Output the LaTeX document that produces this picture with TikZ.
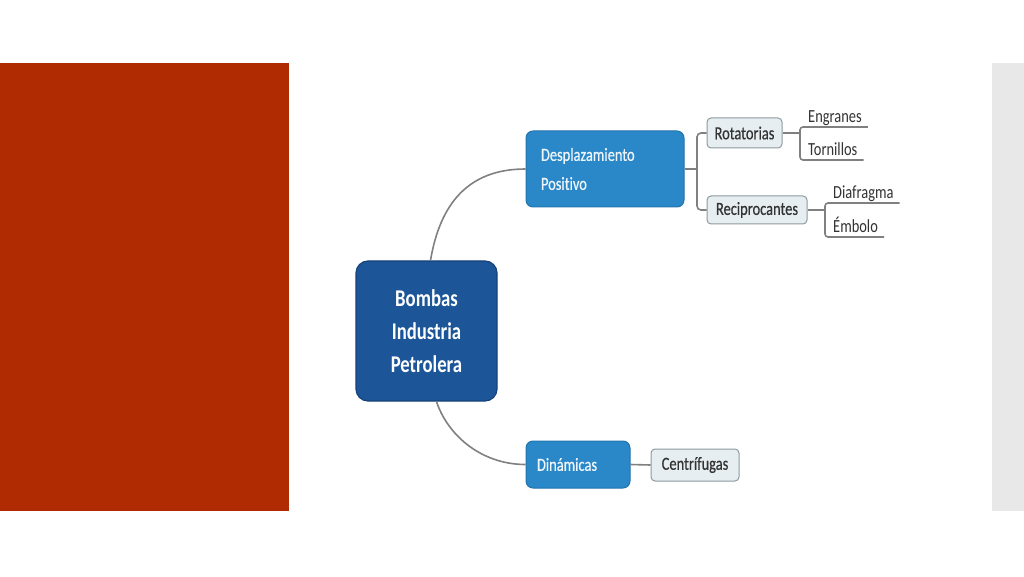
\documentclass[tikz,border=0pt]{standalone}
\usepackage{fontspec}
\setmainfont{Carlito}[FakeStretch=0.78, Ligatures=NoCommon]
\newfontfamily\mapfont{Carlito}[FakeStretch=0.78, FakeBold=0.5, Ligatures=NoCommon]
\usetikzlibrary{positioning}
\definecolor{slideRed}{HTML}{B02A02}
\definecolor{sideGrey}{HTML}{E8E8E8}
\definecolor{rootBlue}{HTML}{1C5598}
\definecolor{rootEdge}{HTML}{15427A}
\definecolor{typeBlue}{HTML}{2A87C8}
\definecolor{typeEdge}{HTML}{2173AE}
\definecolor{kindFill}{HTML}{E6EEF2}
\definecolor{kindEdge}{HTML}{8E9A9F}
\definecolor{linkGrey}{HTML}{808080}
\definecolor{textGrey}{HTML}{333333}
\newcommand\colorLink{linkGrey}
\newcommand\colorLeaf{textGrey}

\begin{document}
\begin{tikzpicture}[x=1pt,y=1pt,
	rootbox/.style={fill=rootBlue, draw=rootEdge, line width=1.2pt, rounded corners=12pt,
		minimum width=141pt, minimum height=140pt, inner sep=0pt, align=center,
		text=white, font=\fontsize{24}{33}\selectfont\bfseries},
	typebox/.style={fill=typeBlue, draw=typeEdge, line width=1pt, rounded corners=7pt,
		inner sep=0pt, text=white!92!typeBlue, font=\mapfont\fontsize{18.5}{29}\selectfont},
	kindbox/.style={fill=kindFill, draw=kindEdge, line width=1pt, rounded corners=4pt,
		inner sep=0pt, text=textGrey, font=\mapfont\fontsize{18.5}{20}\selectfont},
	leaf/.style={inner xsep=6pt, inner ysep=1pt, text height=13pt, text depth=3pt,
		text=\colorLeaf, font=\fontsize{18.5}{20}\selectfont},
	link/.style={draw=\colorLink, line width=1.6pt}]
	\useasboundingbox (0,0) rectangle (1024,576);

	% slide frame
	\fill[slideRed] (0,65) rectangle (289,513);
	\fill[sideGrey] (992,65) rectangle (1024,513);

	% main boxes
	\node[rootbox] (root) at (426.5,245) {Bombas\\Industria\\Petrolera};
	\node[typebox, minimum width=158pt, minimum height=76pt, text width=128pt, align=left]
		(desp) at (605,407) {Desplazamiento\\Positivo};
	\node[typebox, minimum width=104pt, minimum height=47pt, text width=82pt, align=left]
		(din) at (578,111.5) {Dinámicas};

	\node[kindbox, minimum width=75pt, minimum height=30pt] (rot) at (744.5,443) {Rotatorias};
	\node[kindbox, minimum width=100pt, minimum height=28pt] (rec) at (757,366) {Reciprocantes};
	\node[kindbox, minimum width=88pt, minimum height=32pt] (cen) at (695,111) {Centrífugas};

	\foreach \name/\txt/\px/\py in {eng/Engranes/802/449, tor/Tornillos/802/416,
		dia/Diafragma/827/373, emb/Émbolo/827/339}{
		\node[leaf, anchor=south west] (\name) at (\px,\py) {\txt};
	}

	% joints
	\coordinate (dspj) at (697,407);
	\coordinate (rotj) at (800,443);
	\coordinate (recj) at (825,366);

	% links
	\draw[link] (root.north) ++(4,0) .. controls (440,372) and (468,407) .. (desp.west);
	\draw[link] (root.south) ++(10,0) .. controls (448,140) and (482,111.5) .. (din.west);
	\draw[link] (desp.east) -- (dspj);
	\draw[link, rounded corners=4pt] (rot.west) -| (dspj) |- (rec.west);
	\draw[link] (din.east) -- (cen.west);

	\draw[link] (rot.east) -- (rotj);
	\draw[link, rounded corners=3pt] (eng.south east) -| (rotj) |- (tor.south east);
	\draw[link] (rec.east) -- (recj);
	\draw[link, rounded corners=3pt] (dia.south east) -| (recj) |- (emb.south east);
\end{tikzpicture}
\end{document}
